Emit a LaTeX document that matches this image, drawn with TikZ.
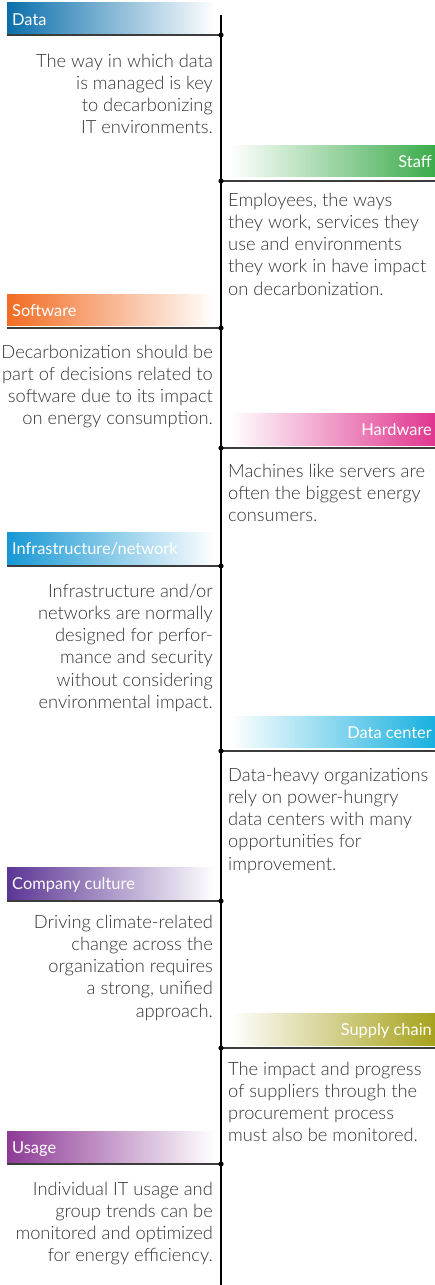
\documentclass[tikz,border=0pt]{standalone}
\usepackage{fontspec}
\setmainfont{Lato}[UprightFont=* Light, BoldFont=* Bold]
\newfontfamily\labelfont{Lato}
\definecolor{cData}{HTML}{0B6FAB}
\definecolor{cStaff}{HTML}{3BAB4A}
\definecolor{cSoft}{HTML}{F26C23}
\definecolor{cHard}{HTML}{E0368F}
\definecolor{cInfra}{HTML}{1697D4}
\definecolor{cDC}{HTML}{18B0DF}
\definecolor{cCult}{HTML}{5B3594}
\definecolor{cSupply}{HTML}{A7A21C}
\definecolor{cUsage}{HTML}{8E3A96}
\definecolor{bodygray}{HTML}{333333}
\definecolor{rulegray}{HTML}{3C3C3C}
\tikzset{
  bandlabel/.style={inner sep=0pt, text=white, font=\labelfont\fontsize{16.4}{19}\selectfont},
  bodytext/.style={inner sep=0pt, text=bodygray, font=\fontsize{18.3}{22.3}\selectfont},
  rule/.style={draw=rulegray, line width=1.6pt},
  spine/.style={draw=black, line width=1.3pt},
  dot/.style={fill=black}
}
\begin{document}
\begin{tikzpicture}[x=1pt,y=-1pt]
\useasboundingbox (0,0) rectangle (435,1285);
% spine
\coordinate (top) at (221,15);
\coordinate (bottom) at (221,1285);
\draw[spine] (top) -- (bottom);

% ---------- 1 Data (left)
\shade[left color=cData, right color=white] (7,2) rectangle (215,33);
\node[bandlabel, anchor=base west] (lData) at (12,25) {Data};
\coordinate (s1) at (7,35); \coordinate (d1) at (221,35);
\draw[rule] (s1) -- (d1);
\node[bodytext, anchor=base east] (tData) at (213,67) {\begin{tabular}[t]{@{}r@{}}The way in which data\\is managed is key\\to decarbonizing\\IT environments.\end{tabular}};

% ---------- 2 Staff (right)
\shade[left color=white, right color=cStaff] (230,145) rectangle (435,176);
\node[bandlabel, anchor=base east] (lStaff) at (432,167) {Staff};
\coordinate (d2) at (221,181); \coordinate (e2) at (435,181);
\draw[rule] (d2) -- (e2);
\node[bodytext, anchor=base west] (tStaff) at (228,206) {\begin{tabular}[t]{@{}l@{}}Employees, the ways\\they work, services they\\use and environments\\they work in have impact\\on decarbonization.\end{tabular}};

% ---------- 3 Software (left)
\shade[left color=cSoft, right color=white] (7,294) rectangle (215,325);
\node[bandlabel, anchor=base west] (lSoft) at (12,316) {Software};
\coordinate (s3) at (7,328); \coordinate (d3) at (221,328);
\draw[rule] (s3) -- (d3);
\node[bodytext, anchor=base east] (tSoft) at (213,358) {\begin{tabular}[t]{@{}r@{}}Decarbonization should be\\part of decisions related to\\software due to its impact\\on energy consumption.\end{tabular}};

% ---------- 4 Hardware (right)
\shade[left color=white, right color=cHard] (230,413) rectangle (435,445);
\node[bandlabel, anchor=base east] (lHard) at (432,435) {Hardware};
\coordinate (d4) at (221,448); \coordinate (e4) at (435,448);
\draw[rule] (d4) -- (e4);
\node[bodytext, anchor=base west] (tHard) at (228,477) {\begin{tabular}[t]{@{}l@{}}Machines like servers are\\often the biggest energy\\consumers.\end{tabular}};

% ---------- 5 Infrastructure/network (left)
\shade[left color=cInfra, right color=white] (7,532) rectangle (215,564);
\node[bandlabel, anchor=base west] (lInfra) at (12,554) {Infrastructure/network};
\coordinate (s5) at (7,566); \coordinate (d5) at (221,566);
\draw[rule] (s5) -- (d5);
\node[bodytext, anchor=base east] (tInfra) at (213,597) {\begin{tabular}[t]{@{}r@{}}Infrastructure and/or\\networks are normally\\designed for perfor-\\mance and security\\without considering\\environmental impact.\end{tabular}};

% ---------- 6 Data center (right)
\shade[left color=white, right color=cDC] (230,716) rectangle (435,747);
\node[bandlabel, anchor=base east] (lDC) at (432,738) {Data center};
\coordinate (d6) at (221,751); \coordinate (e6) at (435,751);
\draw[rule] (d6) -- (e6);
\node[bodytext, anchor=base west] (tDC) at (228,781) {\begin{tabular}[t]{@{}l@{}}Data-heavy organizations\\rely on power-hungry\\data centers with many\\opportunities for\\improvement.\end{tabular}};

% ---------- 7 Company culture (left)
\shade[left color=cCult, right color=white] (7,867) rectangle (215,899);
\node[bandlabel, anchor=base west] (lCult) at (12,889) {Company culture};
\coordinate (s7) at (7,901); \coordinate (d7) at (221,901);
\draw[rule] (s7) -- (d7);
\node[bodytext, anchor=base east] (tCult) at (213,928) {\begin{tabular}[t]{@{}r@{}}Driving climate-related\\change across the\\organization requires\\a strong, unified\\approach.\end{tabular}};

% ---------- 8 Supply chain (right)
\shade[left color=white, right color=cSupply] (230,1013) rectangle (435,1045);
\node[bandlabel, anchor=base east] (lSupply) at (432,1035) {Supply chain};
\coordinate (d8) at (221,1048); \coordinate (e8) at (435,1048);
\draw[rule] (d8) -- (e8);
\node[bodytext, anchor=base west] (tSupply) at (228,1075) {\begin{tabular}[t]{@{}l@{}}The impact and progress\\of suppliers through the\\procurement process\\must also be monitored.\end{tabular}};

% ---------- 9 Usage (left)
\shade[left color=cUsage, right color=white] (7,1131) rectangle (215,1162);
\node[bandlabel, anchor=base west] (lUsage) at (12,1153) {Usage};
\coordinate (s9) at (7,1164); \coordinate (d9) at (221,1164);
\draw[rule] (s9) -- (d9);
\node[bodytext, anchor=base east] (tUsage) at (213,1195) {\begin{tabular}[t]{@{}r@{}}Individual IT usage and\\group trends can be\\monitored and optimized\\for energy efficiency.\end{tabular}};

% dots on the spine
\foreach \p in {d1,d2,d3,d4,d5,d6,d7,d8,d9} \fill[dot] (\p) circle (2.6);
\end{tikzpicture}
\end{document}
